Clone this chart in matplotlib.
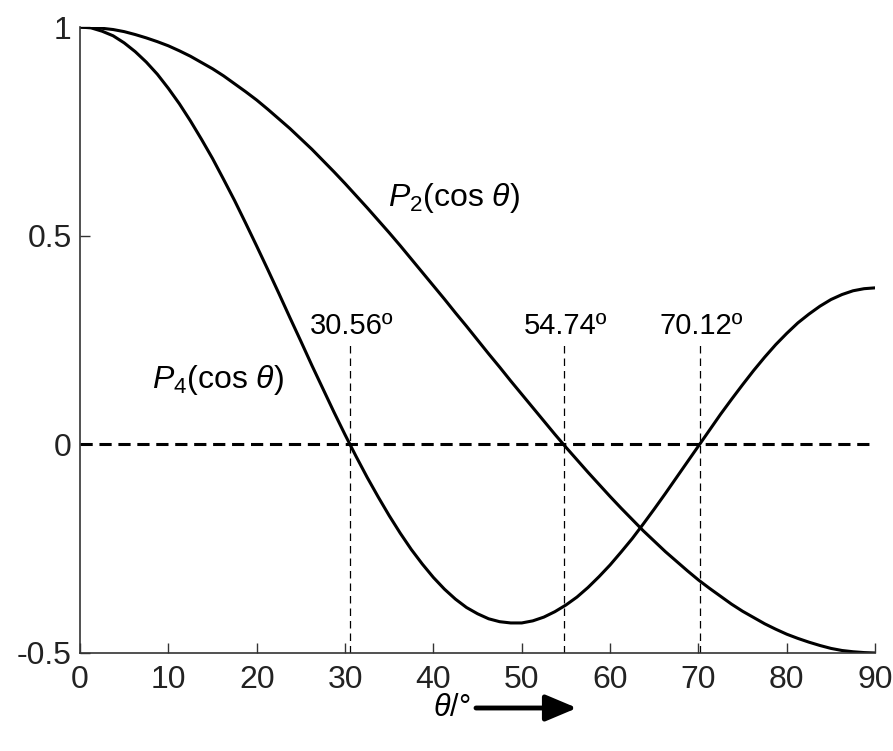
import matplotlib
matplotlib.use('Agg')
from matplotlib import pyplot as plt

plt.rcParams['font.family'] = ['Liberation Sans', 'DejaVu Sans']
plt.rcParams['mathtext.fontset'] = 'custom'
plt.rcParams['mathtext.rm'] = 'Liberation Sans'
plt.rcParams['mathtext.it'] = 'Liberation Sans:italic'

# angle in degrees, sampled every 1.25
theta = [0, 1.25, 2.5, 3.75, 5, 6.25, 7.5, 8.75, 10, 11.25, 12.5, 13.75, 15, 16.25,
         17.5, 18.75, 20, 21.25, 22.5, 23.75, 25, 26.25, 27.5, 28.75, 30, 31.25,
         32.5, 33.75, 35, 36.25, 37.5, 38.75, 40, 41.25, 42.5, 43.75, 45, 46.25,
         47.5, 48.75, 50, 51.25, 52.5, 53.75, 55, 56.25, 57.5, 58.75, 60, 61.25,
         62.5, 63.75, 65, 66.25, 67.5, 68.75, 70, 71.25, 72.5, 73.75, 75, 76.25,
         77.5, 78.75, 80, 81.25, 82.5, 83.75, 85, 86.25, 87.5, 88.75, 90]

p2 = [1.000, 0.999, 0.997, 0.994, 0.989, 0.982, 0.974, 0.965, 0.955, 0.943, 0.930,
      0.915, 0.900, 0.883, 0.864, 0.845, 0.825, 0.803, 0.780, 0.757, 0.732, 0.707,
      0.680, 0.653, 0.625, 0.596, 0.567, 0.537, 0.507, 0.476, 0.444, 0.412, 0.380,
      0.348, 0.315, 0.283, 0.250, 0.217, 0.185, 0.152, 0.120, 0.088, 0.056, 0.024,
      -0.007, -0.037, -0.067, -0.096, -0.125, -0.153, -0.180, -0.207, -0.232,
      -0.257, -0.280, -0.303, -0.325, -0.345, -0.364, -0.383, -0.400, -0.415,
      -0.430, -0.443, -0.455, -0.465, -0.474, -0.482, -0.489, -0.494, -0.497,
      -0.499, -0.500]

p4 = [1.000, 0.998, 0.990, 0.979, 0.962, 0.941, 0.916, 0.887, 0.853, 0.816, 0.775,
      0.731, 0.685, 0.635, 0.584, 0.530, 0.475, 0.419, 0.362, 0.304, 0.247, 0.189,
      0.133, 0.077, 0.023, -0.029, -0.079, -0.126, -0.171, -0.213, -0.252, -0.287,
      -0.319, -0.347, -0.371, -0.391, -0.406, -0.418, -0.425, -0.428, -0.428,
      -0.423, -0.414, -0.401, -0.385, -0.366, -0.343, -0.317, -0.289, -0.258,
      -0.226, -0.191, -0.155, -0.118, -0.080, -0.042, -0.004, 0.034, 0.072, 0.108,
      0.143, 0.177, 0.209, 0.239, 0.266, 0.291, 0.312, 0.331, 0.347, 0.359, 0.368,
      0.373, 0.375]

# zeros of the two curves, marked with dashed guides
zeros = [30.56, 54.74, 70.12]
zero_labels = ['30.56º', '54.74º', '70.12º']
guide_top = 0.245

xticks = [0, 10, 20, 30, 40, 50, 60, 70, 80, 90]
yticks = [-0.5, 0, 0.5, 1]
ytick_labels = ['-0.5', '0', '0.5', '1']

fig = plt.figure(figsize=(8.93, 7.51), dpi=100)
ax = fig.add_axes([0.0896, 0.1305, 0.8904, 0.8335])

ax.plot(theta, p2, color='black', lw=2.2, solid_joinstyle='round')
ax.plot(theta, p4, color='black', lw=2.2, solid_joinstyle='round')
ax.plot([0, 90], [0, 0], color='black', lw=2.2, dashes=(4, 2.2))

for z, lab in zip(zeros, zero_labels):
    ax.plot([z, z], [-0.5, guide_top], color='black', lw=0.9, dashes=(6, 4))
    ax.text(z + 0.2, guide_top + 0.005, lab, ha='center', va='bottom', fontsize=21)

ax.text(34.9, 0.59, r'$P_2$(cos $\theta$)', ha='left', va='center', fontsize=23)
ax.text(8.1, 0.153, r'$P_4$(cos $\theta$)', ha='left', va='center', fontsize=23)

ax.set_xlim(0, 90)
ax.set_ylim(-0.5, 1)
ax.set_xticks(xticks)
ax.set_yticks(yticks)
ax.set_yticklabels(ytick_labels)
ax.tick_params(direction='in', length=7, width=1, labelsize=23,
               color='#333333', labelcolor='#222222')
ax.tick_params(axis='x', pad=9)
ax.tick_params(axis='y', pad=6)
ax.spines['top'].set_visible(False)
ax.spines['right'].set_visible(False)
for s in ['left', 'bottom']:
    ax.spines[s].set_linewidth(1.2)
    ax.spines[s].set_color('#333333')

# axis label with an arrow pointing along increasing angle
fig.text(470 / 893, 1 - 708 / 751, r'$\theta$/°', ha='right', va='center', fontsize=22)
ax.annotate('', xy=(577 / 893, 1 - 708 / 751), xytext=(476 / 893, 1 - 708 / 751),
            xycoords='figure fraction', textcoords='figure fraction',
            arrowprops=dict(arrowstyle='-|>,head_length=1.9,head_width=0.8',
                            color='black', lw=3.5, shrinkA=0, shrinkB=0))

fig.savefig('out.png', dpi=100)
